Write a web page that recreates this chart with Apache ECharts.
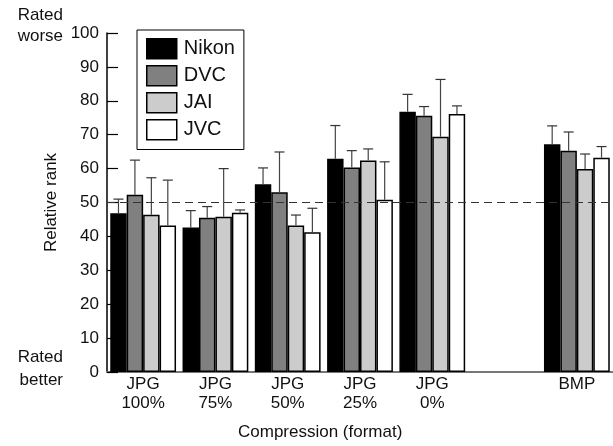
<!DOCTYPE html>
<html><head><meta charset="utf-8">
<script src="https://cdn.jsdelivr.net/npm/echarts@6/dist/echarts.min.js"></script>
<style>html,body{margin:0;padding:0;background:#fff}#c{width:613px;height:446px}</style>
</head><body><div id="c"></div>
<script>
var categories = ['JPG\n100%','JPG\n75%','JPG\n50%','JPG\n25%','JPG\n0%','','BMP'];
var cameras = ['Nikon','DVC','JAI','JVC'];
var nikon    = [46.8, 42.6, 55.4, 62.9, 76.8, null, 67.2];
var nikonErr = [51.0, 47.6, 60.2, 72.7, 81.9, null, 72.6];
var dvc      = [52.3, 45.5, 53.0, 60.3, 75.6, null, 65.3];
var dvcErr   = [62.5, 48.8, 64.9, 65.3, 78.3, null, 70.8];
var jai      = [46.4, 45.8, 43.2, 62.4, 69.4, null, 59.9];
var jaiErr   = [57.3, 60.0, 46.3, 65.8, 86.3, null, 64.3];
var jvc      = [43.2, 47.0, 41.2, 50.8, 76.1, null, 63.2];
var jvcErr   = [56.6, 47.8, 48.3, 62.0, 78.5, null, 66.5];
var yTicks = [0,10,20,30,40,50,60,70,80,90,100];
var refLine = 50;

var values = [nikon, dvc, jai, jvc];
var errs = [nikonErr, dvcErr, jaiErr, jvcErr];
var colors = ['#000000','#808080','#cccccc','#ffffff'];
var GAP = 0.09;
var FONT = 'Liberation Sans';

var series = [];
values.forEach(function(v, k){
  var s = {
    name: cameras[k], type: 'bar', data: v,
    barGap: '0%', barCategoryGap: (GAP*100)+'%',
    itemStyle: {color: colors[k], borderColor: '#000', borderWidth: 1.5},
    emphasis: {disabled: true}, z: 2
  };
  if (k === 3) {
    s.markLine = {silent: true, symbol: 'none', label: {show: false},
      lineStyle: {color: '#333', type: [8,5], width: 1.2},
      data: [{yAxis: refLine}], z: 5};
  }
  series.push(s);
});
errs.forEach(function(e, k){
  var d = [];
  e.forEach(function(t, i){ if (t != null) d.push([i, values[k][i], t]); });
  series.push({
    type: 'custom', z: 3, silent: true,
    data: d,
    encode: {x: 0, y: [1, 2]},
    renderItem: function(params, api){
      var i = api.value(0);
      var base = api.coord([i, api.value(1)]);
      var top = api.coord([i, api.value(2)]);
      var catW = api.size([1, 0])[0];
      var barW = catW*(1-GAP)/4;
      var x = base[0] - catW*(1-GAP)/2 + barW*(k+0.5);
      var cap = 5;
      return {type: 'group', children: [
        {type: 'line', shape: {x1: x, y1: base[1], x2: x, y2: top[1]}, style: {stroke: '#444', lineWidth: 1.2}},
        {type: 'line', shape: {x1: x-cap, y1: top[1], x2: x+cap, y2: top[1]}, style: {stroke: '#333', lineWidth: 1.2}}
      ]};
    }
  });
});

var chart = echarts.init(document.getElementById('c'), null, {renderer: 'canvas'});
chart.setOption({
  animation: false,
  textStyle: {fontFamily: FONT},
  grid: {left: 107, right: -4, top: 33, bottom: 74},
  legend: {
    data: cameras, orient: 'vertical', left: 137, top: 30,
    padding: [8, 9, 9, 9], itemGap: 5.5, itemWidth: 30, itemHeight: 20,
    borderColor: '#000', borderWidth: 1, icon: 'rect',
    itemStyle: {borderColor: '#000', borderWidth: 1.5},
    textStyle: {fontSize: 20, color: '#111', fontFamily: FONT, padding: [0,0,0,2]},
    selectedMode: false
  },
  xAxis: {
    type: 'category', data: categories,
    axisLine: {lineStyle: {color: '#777', width: 2}},
    axisTick: {inside: true, length: 11, lineStyle: {color: '#777', width: 1}},
    axisLabel: {fontSize: 17, color: '#111', lineHeight: 19, margin: 3, interval: 0, fontFamily: FONT}
  },
  yAxis: {
    type: 'value', min: yTicks[0], max: yTicks[yTicks.length-1], interval: 10,
    name: 'Relative rank', nameLocation: 'middle', nameGap: 46,
    nameTextStyle: {fontSize: 17, color: '#111', fontFamily: FONT},
    splitLine: {show: false},
    axisLine: {show: true, lineStyle: {color: '#000', width: 1.5}},
    axisTick: {show: true, inside: true, length: 11, lineStyle: {color: '#000', width: 1.2}},
    axisLabel: {fontSize: 17, color: '#111', margin: 8, fontFamily: FONT}
  },
  graphic: [
    {type: 'text', right: 613-63, top: 5, style: {text: 'Rated\nworse', lineHeight: 21, fill: '#111', textAlign: 'right', font: '17px ' + FONT}},
    {type: 'text', right: 613-63, top: 346, style: {text: 'Rated\nbetter', lineHeight: 23, fill: '#111', textAlign: 'right', font: '17px ' + FONT}},
    {type: 'text', left: 238, top: 424, style: {text: 'Compression (format)', fill: '#111', font: '17px ' + FONT}}
  ],
  series: series
});
</script></body></html>
